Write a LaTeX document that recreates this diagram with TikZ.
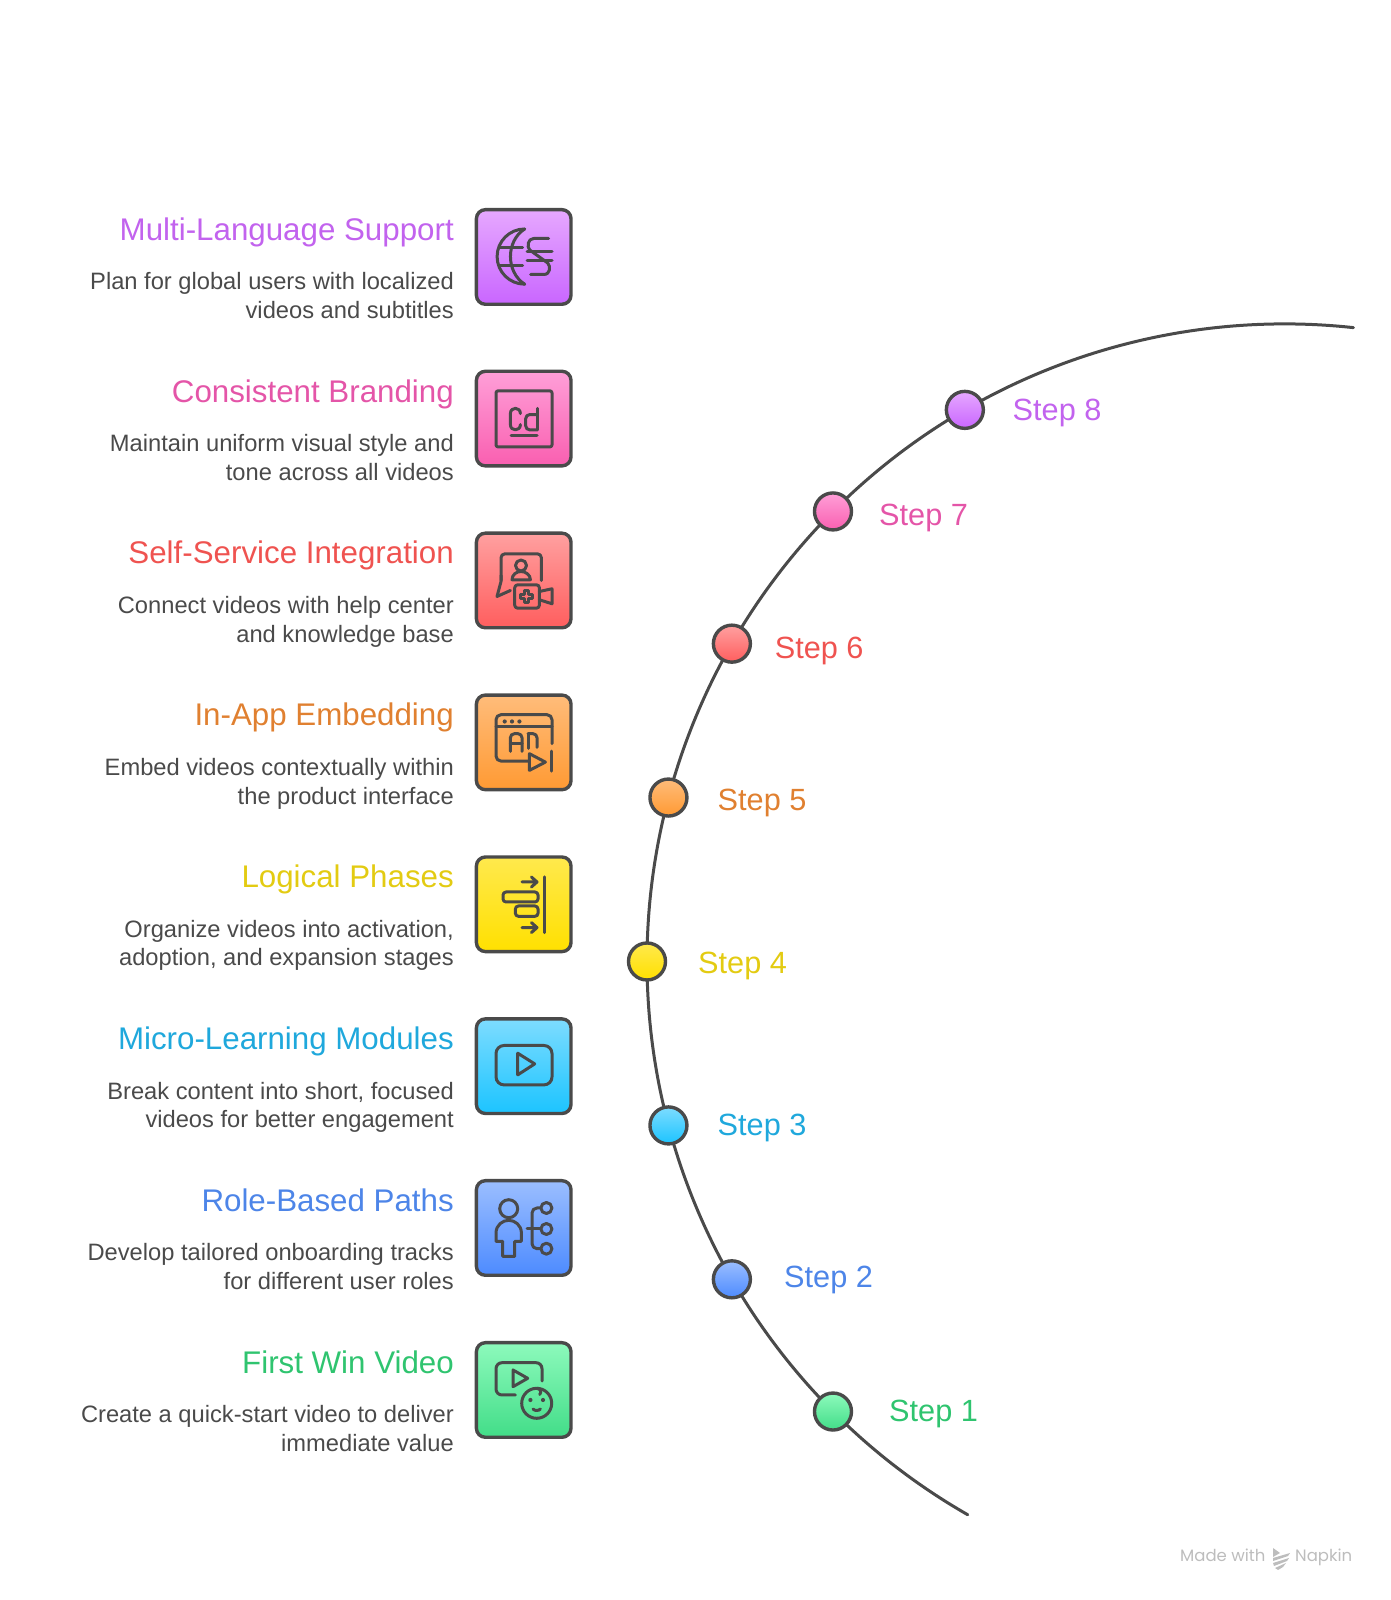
\documentclass[tikz,border=0pt]{standalone}
\usepackage{fontspec}
\setmainfont{Liberation Sans}
\newfontfamily\footfont{Poppins}
\usetikzlibrary{backgrounds}
\definecolor{ink}{HTML}{4A4A4A}
\definecolor{bodytxt}{HTML}{4A4A4A}
\definecolor{foot}{HTML}{BDBDBD}
\definecolor{atop}{HTML}{8DFABC}\definecolor{abot}{HTML}{42DD88}\definecolor{atxt}{HTML}{2FC46F}
\definecolor{btop}{HTML}{9BBEFF}\definecolor{bbot}{HTML}{4D8BFF}\definecolor{btxt}{HTML}{4D85E8}
\definecolor{ctop}{HTML}{7DDCFF}\definecolor{cbot}{HTML}{1CC4FF}\definecolor{ctxt}{HTML}{1FA8DC}
\definecolor{dtop}{HTML}{FFE94D}\definecolor{dbot}{HTML}{FFE000}\definecolor{dtxt}{HTML}{E3CB12}
\definecolor{etop}{HTML}{FFBC7A}\definecolor{ebot}{HTML}{FF9A33}\definecolor{etxt}{HTML}{E08030}
\definecolor{ftop}{HTML}{FFA0A0}\definecolor{fbot}{HTML}{FF5E5E}\definecolor{ftxt}{HTML}{EF5350}
\definecolor{gtop}{HTML}{FF9FD8}\definecolor{gbot}{HTML}{F95FB0}\definecolor{gtxt}{HTML}{E455A8}
\definecolor{htop}{HTML}{E6A8FF}\definecolor{hbot}{HTML}{C966FF}\definecolor{htxt}{HTML}{C263EE}
\tikzset{
 iconbox/.style={draw=ink,line width=3.4pt,rounded corners=9pt,minimum width=94.6pt,minimum height=94.6pt,inner sep=0pt,top color=#1top,bottom color=#1bot},
 dot/.style={circle,draw=ink,line width=3.4pt,minimum size=37pt,inner sep=0pt,top color=#1top,bottom color=#1bot},
 titletxt/.style={anchor=base east,inner sep=0pt,font=\fontsize{31.3}{36}\selectfont,text=#1txt},
 desctxt/.style={anchor=north east,inner sep=0pt,align=right,font=\fontsize{23.7}{28.8}\selectfont,text=bodytxt},
 steptxt/.style={anchor=base west,inner sep=0pt,font=\fontsize{30.7}{36}\selectfont,text=#1txt},
 rail/.style={draw=ink,line width=3pt,line cap=round},
 icon/.style={draw=ink,line width=3pt,line cap=round,line join=round},
 foottxt/.style={anchor=base west,inner sep=0pt,font=\footfont\fontsize{16.5}{20}\selectfont,text=foot}
}
\newcommand{\entry}[6]{%
 \node[iconbox=#2] (b#1) at (523.7,#3) {};
 \node[titletxt=#2] (t#1) at (454,#3+16.5) {#4};
 \node[desctxt] (d#1) at (454,#3-12.5) {\strut #5\\\strut #6};
}
\newcommand{\stepdot}[6]{%
 \node[dot=#2] (s#1) at ([shift={(#3:637.6pt)}]C) {};
 \node[steptxt=#2] (l#1) at (#4,#5-11) {#6};
}
\begin{document}
\begin{tikzpicture}[x=1pt,y=1pt]
\useasboundingbox (0,0) rectangle (1390,1600);
\coordinate (C) at (1284.6,638.5);
% entries (y measured upward from the bottom)
\entry{1}{a}{210}{First Win Video}{Create a quick-start video to deliver}{immediate value}
\entry{2}{b}{372}{Role-Based Paths}{Develop tailored onboarding tracks}{for different user roles}
\entry{3}{c}{533.8}{Micro-Learning Modules}{Break content into short, focused}{videos for better engagement}
\entry{4}{d}{695.7}{Logical Phases}{Organize videos into activation,}{adoption, and expansion stages}
\entry{5}{e}{857.6}{In-App Embedding}{Embed videos contextually within}{the product interface}
\entry{6}{f}{1019.5}{Self-Service Integration}{Connect videos with help center}{and knowledge base}
\entry{7}{g}{1181.4}{Consistent Branding}{Maintain uniform visual style and}{tone across all videos}
\entry{8}{h}{1343}{Multi-Language Support}{Plan for global users with localized}{videos and subtitles}
% steps
\stepdot{1}{a}{224.9}{889}{189.5}{Step 1}
\stepdot{2}{b}{209.9}{784}{323.2}{Step 2}
\stepdot{3}{c}{194.9}{717.5}{475.4}{Step 3}
\stepdot{4}{d}{180}{698}{637.5}{Step 4}
\stepdot{5}{e}{165.1}{717.5}{800}{Step 5}
\stepdot{6}{f}{150.1}{774.6}{952}{Step 6}
\stepdot{7}{g}{135.1}{879}{1085.6}{Step 7}
\stepdot{8}{h}{120.1}{1012.5}{1190}{Step 8}
\coordinate (railstart) at ([shift={(240.2:637.6pt)}]C);
\coordinate (railend) at ([shift={(83.8:637.6pt)}]C);
\begin{pgfonlayer}{background}
 \draw[rail] (railstart) arc[start angle=240.2,end angle=224.9,radius=637.6pt];
 \draw[rail] (s1.center) arc[start angle=224.9,end angle=209.9,radius=637.6pt];
 \draw[rail] (s2.center) arc[start angle=209.9,end angle=194.9,radius=637.6pt];
 \draw[rail] (s3.center) arc[start angle=194.9,end angle=180,radius=637.6pt];
 \draw[rail] (s4.center) arc[start angle=180,end angle=165.1,radius=637.6pt];
 \draw[rail] (s5.center) arc[start angle=165.1,end angle=150.1,radius=637.6pt];
 \draw[rail] (s6.center) arc[start angle=150.1,end angle=135.1,radius=637.6pt];
 \draw[rail] (s7.center) arc[start angle=135.1,end angle=120.1,radius=637.6pt];
 \draw[rail] (s8.center) arc[start angle=120.1,end angle=83.8,radius=637.6pt];
\end{pgfonlayer}
% icon 1: video + baby face
\begin{scope}[shift={(b1.center)},icon]
 \draw[rounded corners=6pt] (-8.3,-5) -- (-27.7,-5) -- (-27.7,27.3) -- (18.3,27.3) -- (18.3,9);
 \draw (-10.7,20) -- (-10.7,3.3) -- (4,11.7) -- cycle;
 \draw (13,-13.3) circle[radius=15];
 \fill[ink,draw=none] (6.7,-10) circle[radius=2.1] (19.3,-10) circle[radius=2.1];
 \draw (9.3,-19) .. controls (11,-21) and (15,-21) .. (16.7,-19);
 \draw (13.3,1.7) .. controls (17,1) and (18,-2) .. (16,-4.5);
\end{scope}
% icon 2: person + tree
\begin{scope}[shift={(b2.center)},icon]
 \draw (-15,19.3) circle[radius=9];
 \draw (-21,-28.3) -- (-21,-13.3) -- (-27.7,-13.3) -- (-27.7,-5) .. controls (-27.7,3) and (-21,7.7) .. (-15,7.7) .. controls (-9,7.7) and (-2.3,3) .. (-2.3,-5) -- (-2.3,-13.3) -- (-9,-13.3) -- (-9,-28.3) -- cycle;
 \draw (3.3,-1) -- (17,-1);
 \draw[rounded corners=5pt] (17,20) -- (8.3,20) -- (8.3,-20.7) -- (17,-20.7);
 \draw (22.7,20) circle[radius=5.5] (22.7,-1) circle[radius=5.5] (22.7,-20.7) circle[radius=5.5];
\end{scope}
% icon 3: play
\begin{scope}[shift={(b3.center)},icon]
 \draw[rounded corners=8pt] (-27.7,20.7) rectangle (28.3,-18.7);
 \draw (-6,13) -- (-6,-8.7) -- (11,2.3) -- cycle;
\end{scope}
% icon 4: align right
\begin{scope}[shift={(b4.center)},icon]
 \draw (20.3,27.3) -- (20.3,-28.3);
 \draw (-1.7,22.3) -- (13.3,22.3) (7.7,27.3) -- (13.3,22.3) -- (7.7,17.3);
 \draw (-1.7,-23.3) -- (13.3,-23.3) (7.7,-18.3) -- (13.3,-23.3) -- (7.7,-28.3);
 \draw[rounded corners=3pt] (-20.7,12.3) rectangle (14.3,2.3);
 \draw[rounded corners=3pt] (-8.3,-1.7) rectangle (14.3,-12);
\end{scope}
% icon 5: in-app
\begin{scope}[shift={(b5.center)},icon]
 \draw[rounded corners=5pt] (5,-18.7) -- (-27.7,-18.7) -- (-27.7,27.7) -- (28.3,27.7) -- (28.3,-1.3);
 \draw (-27.7,16) -- (28.3,16);
 \fill[ink,draw=none] (-19,20.9) circle[radius=2.1] (-11.7,20.9) circle[radius=2.1] (-4.3,20.9) circle[radius=2.1];
 \draw[rounded corners=4pt] (-13.3,-9) -- (-13.3,8.7) -- (-1.7,8.7) -- (-1.7,-9);
 \draw (-13.3,-1.3) -- (-1.7,-1.3);
 \draw (4.3,-6) -- (4.3,8.7);
 \draw[rounded corners=4pt] (4.3,8.7) -- (13.3,8.7) -- (13.3,-5);
 \draw (5.7,-11.3) -- (5.7,-28) -- (21.7,-19.7) -- cycle;
 \draw (27.7,-8.7) -- (27.7,-28.7);
\end{scope}
% icon 6: self-service
\begin{scope}[shift={(b6.center)},icon]
 \draw[rounded corners=4pt] (17.7,0) -- (17.7,26.7) -- (-22.7,26.7) -- (-22.7,0);
 \draw (-22.7,5) -- (-22.7,-1) -- (-26.7,-16) -- (-13.3,-10);
 \draw (-2.7,15) circle[radius=5.5];
 \draw (-11.7,0.7) .. controls (-11.7,6) and (-7,9) .. (-2.7,9) .. controls (1.5,9) and (6.7,6) .. (6.7,0.7) -- cycle;
 \draw[rounded corners=3pt] (-9,-4.3) rectangle (15.7,-27.7);
 \draw (15.7,-11) -- (28.3,-8.3) -- (28.3,-23.3) -- (15.7,-19.3);
 \draw (0.5,-9.6) -- (4.9,-9.6) -- (4.9,-13.6) -- (8.9,-13.6) -- (8.9,-18) -- (4.9,-18) -- (4.9,-22) -- (0.5,-22) -- (0.5,-18) -- (-3.5,-18) -- (-3.5,-13.6) -- (0.5,-13.6) -- cycle;
\end{scope}
% icon 7: Cd
\begin{scope}[shift={(b7.center)},icon]
 \draw[rounded corners=2pt] (-27.7,27.7) rectangle (28.3,-28.3);
 \draw (-3.3,5) .. controls (-3.3,12) and (-13.3,12) .. (-13.3,5) -- (-13.3,-6) .. controls (-13.3,-13) and (-3.3,-13) .. (-3.3,-6);
 \draw (13.3,10.3) -- (13.3,-11.3);
 \draw[rounded corners=4pt] (13.3,4) -- (2,4) -- (2,-11.3) -- (13.3,-11.3);
 \draw (-12.7,-16.7) -- (13.3,-16.7);
\end{scope}
% icon 8: globe
\begin{scope}[shift={(b8.center)},icon]
 \draw (1,28) arc[start angle=90,end angle=270,radius=27.6];
 \draw (1,28) .. controls (-18,16) and (-18,-15) .. (1,-27.3);
 \draw (-23.5,9.7) -- (-1,9.7) (-23.5,-8.7) -- (-1,-8.7);
 \draw (25,18.5) -- (10,18.5) .. controls (4,18.5) and (3,10) .. (6,7) -- (24,-6) .. controls (27,-9) and (27,-17.5) .. (20,-17.5) -- (7,-17.5);
 \draw (3.3,5.7) -- (28.3,5.7) (3.3,-3.7) -- (28.3,-3.7);
\end{scope}
% footer
\node[foottxt] (m1) at (1180,38.3) {Made with};
\node[foottxt] (m2) at (1295,38.3) {Napkin};
\fill[foot] (1273,52) -- (1280,47) -- (1273,43) -- cycle;
\fill[foot] (1273,42) -- (1290,47) -- (1288,44) -- (1273,39) -- cycle;
\fill[foot] (1273,37) -- (1289,42) -- (1287,39) -- (1274,34) -- cycle;
\fill[foot] (1275,32) -- (1286,37) -- (1283,33) -- (1278,30) -- cycle;
\end{tikzpicture}
\end{document}
